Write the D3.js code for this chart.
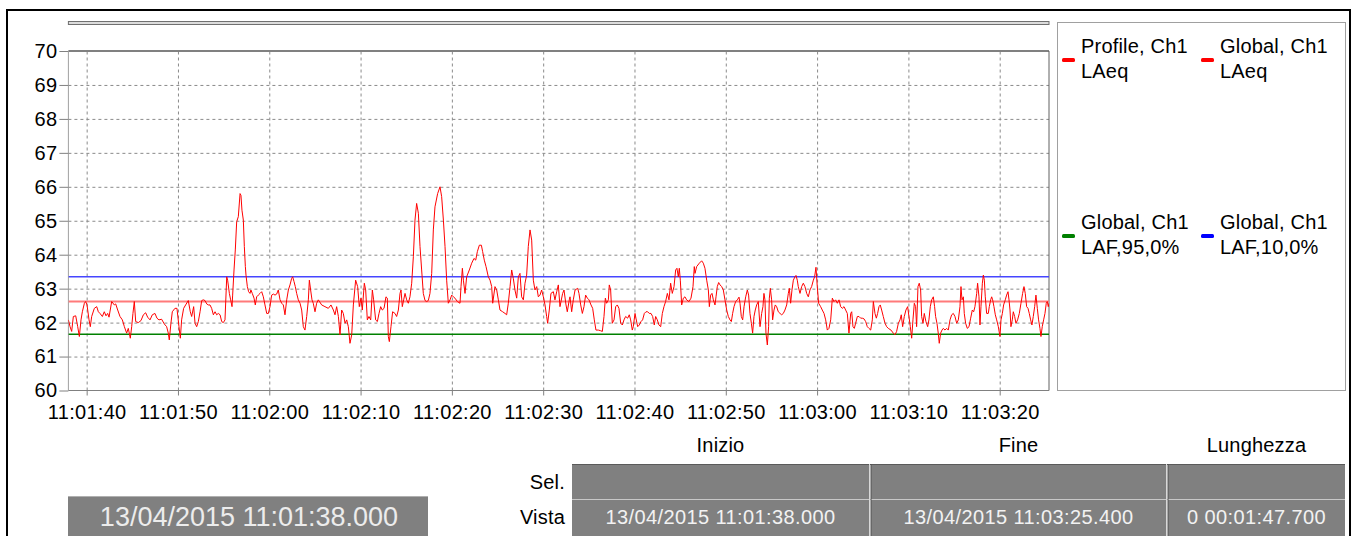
<!DOCTYPE html>
<html lang="it">
<head>
<meta charset="UTF-8">
<title>Profile LAeq</title>
<script src="https://d3js.org/d3.v7.min.js"></script>
<style>
  body { margin: 0; background: #fff; }
  svg { display: block; font-family: "Liberation Sans", Arial, sans-serif; }
  .axis text { font-size: 20px; letter-spacing: 0.3px; fill: #000; }
  .axis path { display: none; }
  .axis line { stroke: #808080; }
  .grid line { stroke: #8a8a8a; stroke-dasharray: 3,3; }
  .grid path { display: none; }
  .lbl { font-size: 20px; letter-spacing: 0.2px; fill: #000; }
  .cell { font-size: 20px; letter-spacing: 0.4px; fill: #f2f2f2; }
</style>
</head>
<body>
<svg width="1357" height="536"></svg>
<script>
// profile LAeq, [seconds from start, dB]
const profile = [
  [0,62.08],[0.18,61.88],[0.36,61.74],[0.54,62.18],[0.8,62.2],[1.02,61.88],[1.2,61.59],[1.38,62.08],[1.53,62.32],[1.75,62.57],[1.89,62.62],[2.04,62.52],[2.26,62.08],[2.4,61.88],[2.55,62.18],[2.84,62.42],[3.1,62.47],[3.28,62.32],[3.46,62.27],[3.72,62.18],[3.93,62.32],[4.12,62.2],[4.3,62.27],[4.45,62.16],[4.74,62.62],[5.03,62.52],[5.18,62.55],[5.4,62.37],[5.65,62.18],[5.91,62.08],[6.13,61.88],[6.38,61.69],[6.56,61.83],[6.78,61.54],[6.93,61.88],[7.07,62.27],[7.22,62.62],[7.37,62.03],[7.66,62],[7.95,62.06],[8.21,62.23],[8.46,62.29],[8.68,62.16],[8.94,62.08],[9.19,62.23],[9.48,62.27],[9.7,62.13],[9.92,62.08],[10.21,62.1],[10.5,61.96],[10.76,61.88],[10.94,61.69],[11.05,61.49],[11.23,61.98],[11.38,62.32],[11.67,62.42],[11.89,62.42],[12.11,61.88],[12.26,61.54],[12.4,62.08],[12.62,62.42],[12.84,62.52],[13.13,62.65],[13.35,62.32],[13.5,62.18],[13.72,62.47],
  [13.87,61.98],[14.05,61.88],[14.23,62.03],[14.42,62.32],[14.6,62.65],[14.78,62.67],[14.96,62.65],[15.15,62.55],[15.33,62.52],[15.51,62.52],[15.69,62.42],[15.88,62.23],[16.06,62.32],[16.24,62.23],[16.42,62.27],[16.61,62.23],[16.79,62.03],[16.97,62],[17.15,62.08],[17.34,63.35],[17.44,63.25],[17.63,62.86],[17.77,62.67],[17.92,62.47],[17.99,62.81],[18.14,63.55],[18.28,64.14],[18.43,64.97],[18.61,65.12],[18.8,65.8],[18.9,65.75],[19.01,65.31],[19.16,65.02],[19.27,64.24],[19.38,63.65],[19.45,63.4],[19.6,63.06],[19.74,62.91],[19.89,62.86],[19.99,62.96],[20.14,62.86],[20.33,62.72],[20.47,62.52],[20.62,62.76],[20.8,62.81],[20.99,62.86],[21.17,62.91],[21.35,62.76],[21.53,62.52],[21.72,62.27],[21.9,62.27],[22.08,62.47],[22.26,62.81],[22.45,62.84],[22.63,62.81],[22.81,62.84],[22.99,62.96],[23.18,62.67],[23.36,62.57],[23.54,62.52],[23.72,62.23],[23.91,62.67],[24.09,62.96],[24.27,63.11],[24.45,63.3],[24.56,63.35],[24.71,63.21],[24.85,63.06],[25,62.86],[25.18,62.67],[25.37,62.57],[25.55,62.37],[25.73,61.88],[25.91,61.78],[26.1,62.18],[26.28,62.67],[26.39,63.25],[26.53,62.96],[26.68,62.67],[26.82,62.57],[27.01,62.32],[27.19,62.57],[27.37,62.67],
  [27.74,62.52],[28.1,62.47],[28.47,62.42],[28.76,62.52],[29.02,62.37],[29.2,62.23],[29.38,62.47],[29.57,62.18],[29.75,61.64],[29.93,62.37],[30.11,62.27],[30.3,61.98],[30.48,62.08],[30.66,61.88],[30.84,61.39],[31.03,61.64],[31.21,62.52],[31.46,63.25],[31.68,63.06],[31.86,62.47],[32.05,62.72],[32.19,62.37],[32.41,63.16],[32.56,62.96],[32.74,62.08],[32.92,62.18],[33.11,62.08],[33.29,62.96],[33.43,62.67],[33.65,62.08],[33.84,62.03],[34.02,62.27],[34.2,62.47],[34.38,62.37],[34.57,62.42],[34.78,62.76],[34.93,62.72],[35.04,61.59],[35.15,61.44],[35.33,61.88],[35.51,62.32],[35.77,62.27],[35.95,62.18],[36.14,62.37],[36.32,62.86],[36.43,62.96],[36.57,62.47],[36.72,62.67],[36.87,62.86],[37.05,62.67],[37.23,62.57],[37.41,62.76],[37.6,63.16],[37.78,63.94],[37.96,65.02],[38.14,65.51],[38.33,65.22],[38.51,64.24],[38.69,63.55],[38.87,62.86],[39.06,62.65],[39.24,62.62],[39.42,62.65],[39.6,62.86],[39.79,63.45],[39.97,64.73],[40.15,65.41],[40.44,65.8],[40.7,66],[40.88,65.71],
  [41.07,65.02],[41.25,64.24],[41.43,63.25],[41.61,62.57],[41.8,62.67],[41.98,62.81],[42.16,62.76],[42.34,62.72],[42.6,62.62],[42.89,62.57],[43,63.06],[43.15,63.6],[43.26,63.25],[43.44,62.86],[43.62,63.35],[43.91,63.55],[44.17,63.75],[44.42,63.89],[44.61,63.84],[44.79,64.09],[45.01,64.28],[45.23,64.28],[45.37,64.09],[45.55,63.84],[45.74,63.65],[45.99,63.35],[46.18,63.25],[46.36,63.06],[46.47,62.57],[46.72,63.06],[46.91,62.96],[47.09,62.67],[47.27,62.37],[47.56,62.32],[47.82,62.27],[48,62.23],[48.18,62.57],[48.37,63.06],[48.55,63.55],[48.73,63.3],[48.91,62.96],[49.1,62.72],[49.28,63.35],[49.46,63.45],[49.64,62.76],[49.83,62.67],[50.01,63.16],[50.19,63.4],[50.37,64.24],[50.56,64.73],[50.74,64.43],[50.92,63.25],[51.1,62.96],[51.29,63.06],[51.47,62.76],[51.65,62.81],[51.83,62.96],[52.02,62.76],[52.2,62.52],[52.38,62.18],[52.49,61.98],[52.67,62.37],[52.85,62.86],[53.11,62.91],[53.29,62.67],[53.48,62.91],[53.66,63.11],[53.84,62.47],[54.13,62.86],[54.28,62.96],[54.5,62.52],[54.64,62.32],[54.86,62.67],
  [54.94,62.76],[55.12,62.32],[55.3,62.67],[55.49,62.96],[55.78,63.01],[55.92,62.86],[56.11,62.52],[56.29,62.27],[56.47,62.47],[56.65,62.81],[56.84,62.72],[57.02,62.67],[57.24,62.52],[57.42,62.42],[57.6,62.08],[57.78,61.78],[58.04,61.78],[58.3,61.76],[58.48,61.74],[58.66,62.18],[58.81,62.72],[58.95,62.57],[59.14,62.67],[59.24,63.11],[59.39,62.96],[59.57,61.98],[59.76,62.08],[59.94,62.47],[60.12,62.52],[60.3,62.42],[60.49,61.98],[60.67,61.93],[60.85,62.08],[61.03,62.18],[61.25,62.13],[61.43,62.23],[61.58,62.08],[61.76,61.78],[61.87,61.88],[62.06,62.27],[62.16,62.13],[62.35,61.88],[62.53,61.93],[62.71,62.03],[62.89,62.08],[63.08,62.27],[63.26,62.32],[63.44,62.32],[63.62,62.27],[63.81,62.27],[63.99,62.18],[64.17,61.93],[64.32,62.18],[64.5,62.08],[64.68,61.93],[64.87,61.88],[65.05,62.27],[65.23,62.47],[65.41,62.62],[65.6,62.86],[65.78,62.67],[65.96,63.16],[66.14,62.86],[66.33,63.06],[66.51,63.55],[66.65,63.6],[66.8,63.35],[66.91,63.6],[67.02,63.25],[67.17,62.52],[67.35,62.72],[67.53,62.76],[67.71,62.67],[67.97,62.62],[68.19,62.72],[68.41,63.06],[68.55,63.65],
  [68.63,63.45],[68.81,63.65],[69.1,63.75],[69.36,63.82],[69.54,63.75],[69.72,63.6],[69.91,63.25],[70.09,62.96],[70.2,62.47],[70.34,62.81],[70.49,62.86],[70.64,62.67],[70.82,62.52],[70.93,62.76],[71.07,63.06],[71.22,63.18],[71.37,63.11],[71.55,63.06],[71.73,62.96],[71.91,62.67],[72.1,62.37],[72.28,62.18],[72.46,62.08],[72.61,62.03],[72.75,62.27],[72.9,62.47],[73.08,62.62],[73.26,62.67],[73.45,62.75],[73.56,62.57],[73.7,62.18],[73.85,62.08],[74,62.47],[74.18,62.76],[74.36,62.96],[74.5,62.81],[74.65,62.27],[74.8,61.98],[74.94,61.69],[75.09,62.18],[75.23,62.37],[75.38,62.52],[75.56,62.62],[75.75,61.88],[75.93,62.27],[76.07,62.47],[76.18,62.86],[76.29,62.67],[76.4,61.69],[76.55,61.34],[76.69,61.88],[76.77,62.72],[76.88,63.01],[77.02,62.67],[77.13,62.08],[77.28,62.37],[77.42,62.52],[77.57,62.47],[77.75,62.32],[77.94,62.27],[78.12,62.23],[78.3,62.27],[78.48,62.37],[78.67,62.52],[78.85,62.86],[78.96,63.01],[79.1,62.57],[79.25,62.96],[79.4,63.25],[79.58,63.35],[79.69,63.39],[79.83,63.25],[79.94,63.06],[80.13,62.86],[80.31,63.06],[80.49,63.16],[80.67,63.06],[80.86,62.86],[81.04,62.76],[81.22,62.96],[81.4,63.06],[81.59,63.25],[81.73,63.35],[81.88,63.63],[82.02,63.06],[82.17,62.57],
  [82.39,62.47],[82.57,62.37],[82.76,62.27],[82.94,62.08],[83.12,61.78],[83.3,61.83],[83.49,62.08],[83.67,62.72],[83.85,62.62],[84.03,62.67],[84.22,62.57],[84.4,62.67],[84.58,62.47],[84.76,62.42],[84.95,62.47],[85.13,62.37],[85.31,62.27],[85.49,61.69],[85.68,62.27],[85.79,62.32],[85.93,61.88],[86.08,61.83],[86.22,61.98],[86.41,62.18],[86.59,62.18],[86.77,62.13],[86.95,62.13],[87.14,62.11],[87.32,62.03],[87.5,61.88],[87.68,61.83],[87.87,61.78],[88.05,62.08],[88.16,62.62],[88.34,62.27],[88.49,62.13],[88.63,62.27],[88.78,62.47],[88.92,62.52],[89.07,62.37],[89.25,62.18],[89.44,61.98],[89.62,61.88],[89.8,61.83],[90.09,61.78],[90.35,61.69],[90.53,61.64],[90.71,61.74],[90.9,61.98],[91.08,62.08],[91.22,62.23],[91.37,61.88],[91.55,62.18],[91.73,62.37],[91.92,62.47],[92.06,62.18],[92.21,61.88],[92.36,61.54],[92.5,62.08],[92.65,62.57],[92.79,62.47],[92.9,61.88],[93.05,63.06],[93.19,63.16],[93.34,62.96],[93.45,62.18],[93.6,61.98],[93.74,62.27],[93.92,62.03],[94.11,61.88],[94.25,62.08],[94.4,62.47],[94.55,62.67],[94.73,62.76],[94.87,62.47],[94.98,62.18],[95.13,61.98],[95.27,61.69],[95.38,61.39],[95.53,61.69],[95.68,61.78],[95.82,61.83],
  [96.01,61.78],[96.19,61.83],[96.37,61.78],[96.56,62.08],[96.74,62.23],[96.92,62.27],[97.1,62.18],[97.29,61.98],[97.47,62.08],[97.65,62.47],[97.76,63.06],[97.87,62.67],[98.02,62.76],[98.12,62.27],[98.27,61.98],[98.45,61.83],[98.64,61.88],[98.82,62.13],[99,62.37],[99.15,62.32],[99.29,62.47],[99.48,62.86],[99.58,63.16],[99.73,62.76],[99.84,61.93],[99.95,62.47],[100.1,63.16],[100.21,63.4],[100.32,63.25],[100.42,62.76],[100.57,62.27],[100.75,62.27],[100.86,62.47],[101.01,62.67],[101.12,62.76],[101.23,62.67],[101.37,62.47],[101.52,62.23],[101.67,62.08],[101.85,61.88],[102.03,61.59],[102.14,62.08],[102.29,62.27],[102.43,62.52],[102.61,62.67],[102.76,62.81],[102.91,62.91],[103.02,62.67],[103.13,62.37],[103.23,61.88],[103.38,62.08],[103.49,62.32],[103.64,62.18],[103.78,61.98],[103.96,62.08],[104.15,62.27],[104.33,62.57],[104.51,62.86],[104.66,63.06],[104.8,62.86],[104.95,62.47],[105.1,62.42],[105.24,62.27],[105.39,62.08],[105.53,61.93],[105.68,62.18],[105.83,62.47],[105.97,62.81],[106.12,62.42],[106.26,62.08],[106.41,61.83],[106.52,61.59],[106.66,61.88],[106.81,62.08],[106.96,62.27],[107.1,62.57],[107.21,62.62],[107.32,62.47],[107.4,62.57]
];

// global levels (horizontal lines)
const globalLaeq = 62.62;
const globalLaf95 = 61.66;
const globalLaf10 = 63.35;

const yTicks = [60, 61, 62, 63, 64, 65, 66, 67, 68, 69, 70];
const startTime = new Date(2015, 3, 13, 11, 1, 38, 0);
const endTime = new Date(2015, 3, 13, 11, 3, 25, 400);

const legendItems = [
  { name: "Profile, Ch1", sub: "LAeq", color: "#ff0000" },
  { name: "Global, Ch1", sub: "LAeq", color: "#ff0000" },
  { name: "Global, Ch1", sub: "LAF,95,0%", color: "#008000" },
  { name: "Global, Ch1", sub: "LAF,10,0%", color: "#0000ff" }
];

const tableHeads = ["Inizio", "Fine", "Lunghezza"];
const rowLabels = ["Sel.", "Vista"];
const vistaCells = ["13/04/2015 11:01:38.000", "13/04/2015 11:03:25.400", "0 00:01:47.700"];
const cursorLabel = "13/04/2015 11:01:38.000";

const svg = d3.select("svg");
const pL = 68.4, pR = 1049, pT = 51, pB = 390.5;

const x = d3.scaleTime().domain([startTime, endTime]).range([pL, pR]);
const y = d3.scaleLinear().domain([60, 70]).range([pB, pT]);
const toDate = s => new Date(+startTime + s * 1000);
const xTicks = x.ticks(d3.timeSecond.every(10));

// outer frame
svg.append("rect")
    .attr("x", 7).attr("y", 10).attr("width", 1343).attr("height", 600)
    .attr("fill", "none").attr("stroke", "#000").attr("stroke-width", 2);

// thin bar above the plot
svg.append("rect")
    .attr("x", pL).attr("y", 21.5).attr("width", pR - pL).attr("height", 3)
    .attr("fill", "#dcdcdc").attr("stroke", "#707070").attr("stroke-width", 1);

// grid
svg.append("g").attr("class", "grid")
    .attr("transform", `translate(${pL},0)`)
    .call(d3.axisLeft(y).tickValues(yTicks.slice(1, -1)).tickSize(-(pR - pL)).tickFormat(""));
svg.append("g").attr("class", "grid")
    .attr("transform", `translate(0,${pB})`)
    .call(d3.axisBottom(x).tickValues(xTicks).tickSize(-(pB - pT)).tickFormat(""));

// plot borders
svg.append("line").attr("x1", pL).attr("x2", pR).attr("y1", pT).attr("y2", pT)
    .attr("stroke", "#808080").attr("stroke-width", 2);
svg.append("line").attr("x1", pL).attr("x2", pL).attr("y1", pT).attr("y2", pB)
    .attr("stroke", "#a0a0a0");
svg.append("line").attr("x1", pR).attr("x2", pR).attr("y1", pT).attr("y2", pB)
    .attr("stroke", "#606060");
svg.append("line").attr("x1", pL).attr("x2", pR).attr("y1", pB).attr("y2", pB)
    .attr("stroke", "#808080");

// axes
svg.append("g").attr("class", "axis")
    .attr("transform", `translate(${pL},0)`)
    .call(d3.axisLeft(y).tickValues(yTicks).tickSize(9).tickPadding(2));
svg.append("g").attr("class", "axis")
    .attr("transform", `translate(0,${pB})`)
    .call(d3.axisBottom(x).tickValues(xTicks).tickSize(5).tickPadding(9)
        .tickFormat(d3.timeFormat("%H:%M:%S")));

svg.append("clipPath").attr("id", "plot")
    .append("rect").attr("x", pL).attr("y", pT).attr("width", pR - pL).attr("height", pB - pT);

const plot = svg.append("g").attr("clip-path", "url(#plot)");

// global level lines
[[globalLaf95, "#008000", 1.5], [globalLaf10, "#4646ff", 1.3], [globalLaeq, "#ff7a7a", 2]].forEach(([v, c, w]) => {
    plot.append("line")
        .attr("x1", pL).attr("x2", pR)
        .attr("y1", y(v)).attr("y2", y(v))
        .attr("stroke", c).attr("stroke-width", w);
});

// profile line
plot.append("path")
    .datum(profile)
    .attr("fill", "none")
    .attr("stroke", "#ff0000")
    .attr("stroke-width", 1)
    .attr("d", d3.line().x(d => x(toDate(d[0]))).y(d => y(d[1])));

// legend
svg.append("rect")
    .attr("x", 1057.5).attr("y", 22.5).attr("width", 288).attr("height", 368)
    .attr("fill", "#fff").attr("stroke", "#a0a0a0");

const legCols = [1062, 1201];
const legRows = [53, 229];
legendItems.forEach((d, i) => {
    const lx = legCols[i % 2], ly = legRows[Math.floor(i / 2)];
    svg.append("rect")
        .attr("x", lx).attr("y", ly + 5).attr("width", 13).attr("height", 4)
        .attr("rx", 1.5).attr("fill", d.color);
    svg.append("text").attr("class", "lbl").attr("x", lx + 19).attr("y", ly).text(d.name);
    svg.append("text").attr("class", "lbl").attr("x", lx + 19).attr("y", ly + 25).text(d.sub);
});

// bottom table
const colX = [[572, 869], [871, 1166], [1168, 1345]];
tableHeads.forEach((h, i) => {
    svg.append("text").attr("class", "lbl")
        .attr("x", (colX[i][0] + colX[i][1]) / 2).attr("y", 452)
        .attr("text-anchor", "middle").text(h);
});
const rowY = [[464, 499], [500, 540]];
rowLabels.forEach((r, j) => {
    svg.append("text").attr("class", "lbl")
        .attr("x", 565).attr("y", j === 0 ? 489 : 524)
        .attr("text-anchor", "end").text(r);
    colX.forEach((c, i) => {
        svg.append("rect")
            .attr("x", c[0]).attr("y", rowY[j][0])
            .attr("width", c[1] - c[0]).attr("height", rowY[j][1] - rowY[j][0])
            .attr("fill", "#808080");
    });
});
svg.append("line").attr("x1", 572).attr("x2", 1345).attr("y1", 464.5).attr("y2", 464.5)
    .attr("stroke", "#5a5a5a");
svg.append("line").attr("x1", 572).attr("x2", 1345).attr("y1", 499.5).attr("y2", 499.5)
    .attr("stroke", "#c8c8c8");
[869.5, 1166.5].forEach(cx => {
    svg.append("line").attr("x1", cx).attr("x2", cx).attr("y1", 464).attr("y2", 536)
        .attr("stroke", "#d8d8d8");
    svg.append("line").attr("x1", cx + 1.5).attr("x2", cx + 1.5).attr("y1", 464).attr("y2", 536)
        .attr("stroke", "#505050");
});
vistaCells.forEach((t, i) => {
    svg.append("text").attr("class", "cell")
        .attr("x", (colX[i][0] + colX[i][1]) / 2).attr("y", 524)
        .attr("text-anchor", "middle").text(t);
});

// cursor time box
svg.append("rect")
    .attr("x", 68).attr("y", 496).attr("width", 360).attr("height", 45)
    .attr("fill", "#808080");
svg.append("line").attr("x1", 68).attr("x2", 428).attr("y1", 496.5).attr("y2", 496.5)
    .attr("stroke", "#b0b0b0");
svg.append("text")
    .attr("x", 249).attr("y", 526)
    .attr("text-anchor", "middle")
    .attr("font-size", 27).attr("fill", "#ececec")
    .text(cursorLabel);
</script>
</body>
</html>
